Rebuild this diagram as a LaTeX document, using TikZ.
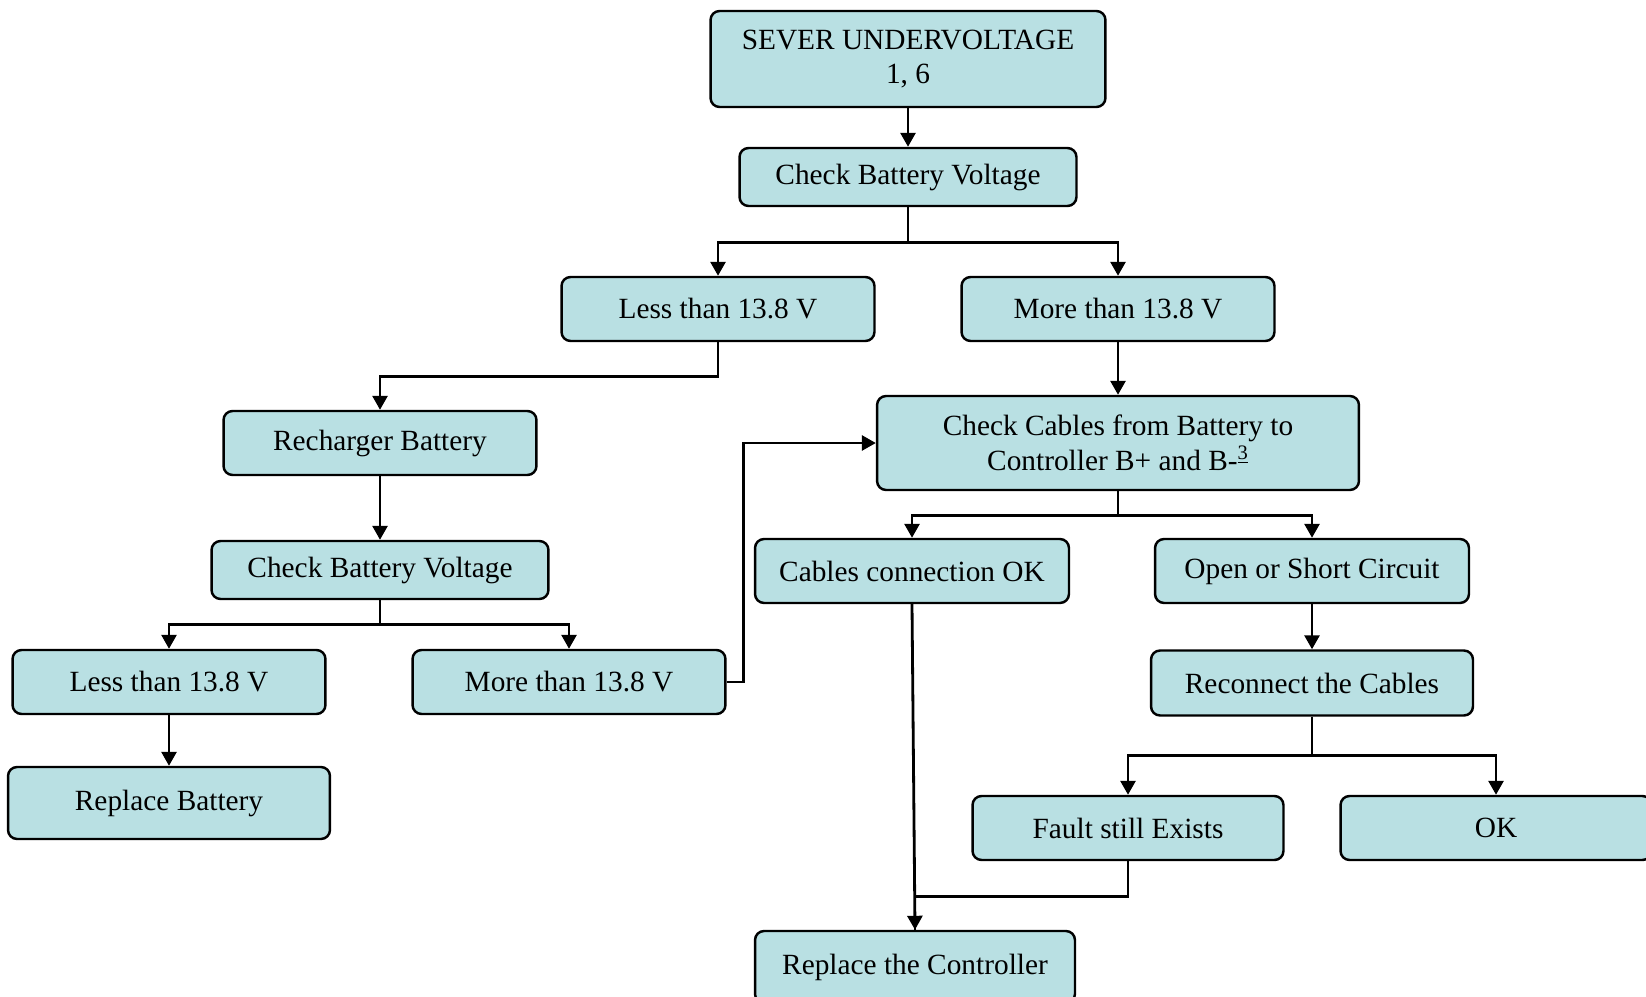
\documentclass[tikz,border=0pt]{standalone}
\usepackage{fontspec}
\setmainfont{Liberation Serif}
\usetikzlibrary{positioning, arrows.meta}
\definecolor{cardfill}{RGB}{185,224,227}

\begin{document}
\begin{tikzpicture}[x=0.02cm, y=-0.02cm]
\tikzset{card/.style =
        {
            rectangle,
            rounded corners=0.18cm,
            line width=1.4pt,
            draw=black,
            fill=cardfill,
            align=center,
            inner sep=0pt,
            font=\fontsize{16.7}{19.7}\selectfont
        }
}

\tikzset{wide/.style =
        {
            card,
            minimum width=6.26cm,
            minimum height=1.28cm
        }
}

\tikzset{short/.style =
        {
            card,
            minimum width=6.74cm,
            minimum height=1.16cm
        }
}

\tikzset{link/.style = {
            line width=1.6pt,
            -{Triangle[length=0.28cm, width=0.3cm]}
        }
}

\tikzset{joint/.style = { line width=1.6pt } }

		\useasboundingbox (0,0) rectangle (1646,997);

		\node[card, minimum width=7.9cm, minimum height=1.92cm] (top) at (908,59) {SEVER UNDERVOLTAGE\\1, 6};
		\node[short] (cbv1) at (908,177) {Check Battery Voltage};
		\node[wide] (less1) at (718,309) {Less than 13.8 V};
		\node[wide] (more1) at (1118,309) {More than 13.8 V};
		\node[wide] (recharge) at (380,443) {Recharger Battery};
		\node[card, minimum width=9.64cm, minimum height=1.88cm] (cables) at (1118,443) {Check Cables from Battery to\\Controller B+ and B-\textsuperscript{\underline{3}}};
		\node[short] (cbv2) at (380,570) {Check Battery Voltage};
		\node[wide] (less2) at (169,682) {Less than 13.8 V};
		\node[wide] (more2) at (569,682) {More than 13.8 V};
		\node[card, minimum width=6.44cm, minimum height=1.44cm] (repbat) at (169,803) {Replace Battery};
		\node[wide, minimum width=6.28cm] (cableok) at (912,571) {Cables connection OK};
		\node[wide, minimum width=6.28cm] (open) at (1312,571) {Open or Short Circuit};
		\node[card, minimum width=6.44cm, minimum height=1.3cm] (reconnect) at (1312,683) {Reconnect the Cables};
		\node[wide, minimum width=6.22cm] (fault) at (1128,828) {Fault still Exists};
		\node[wide, minimum width=6.22cm] (ok) at (1496,828) {OK};
		\node[card, minimum width=6.4cm, minimum height=1.44cm] (ctrl) at (915,967) {Replace the Controller};

		% straight arrows
		\foreach \start / \finish in
			{top/cbv1,
				more1/cables,
				recharge/cbv2,
				less2/repbat,
				open/reconnect,
				cableok/ctrl}
			{
				\draw [link] (\start.south) -- (\finish.north);
			}

		% forks
		\foreach \from / \drop / \left / \right in
			{cbv1/35/less1/more1,
				cbv2/24/less2/more2,
				cables/24/cableok/open,
				reconnect/39/fault/ok}
			{
				\draw [link] (\from.south) -- ++(0,\drop) -| (\left.north);
				\draw [link] (\from.south) -- ++(0,\drop) -| (\right.north);
			}

		\draw [link] (less1.south) -- ++(0,34) -| (recharge.north);
		\draw [link] (more2.east) -- ++(17,0) |- (cables.west);
		\draw [joint] (fault.south) -- ++(0,35) -| (ctrl.north);

	\end{tikzpicture}
\end{document}
